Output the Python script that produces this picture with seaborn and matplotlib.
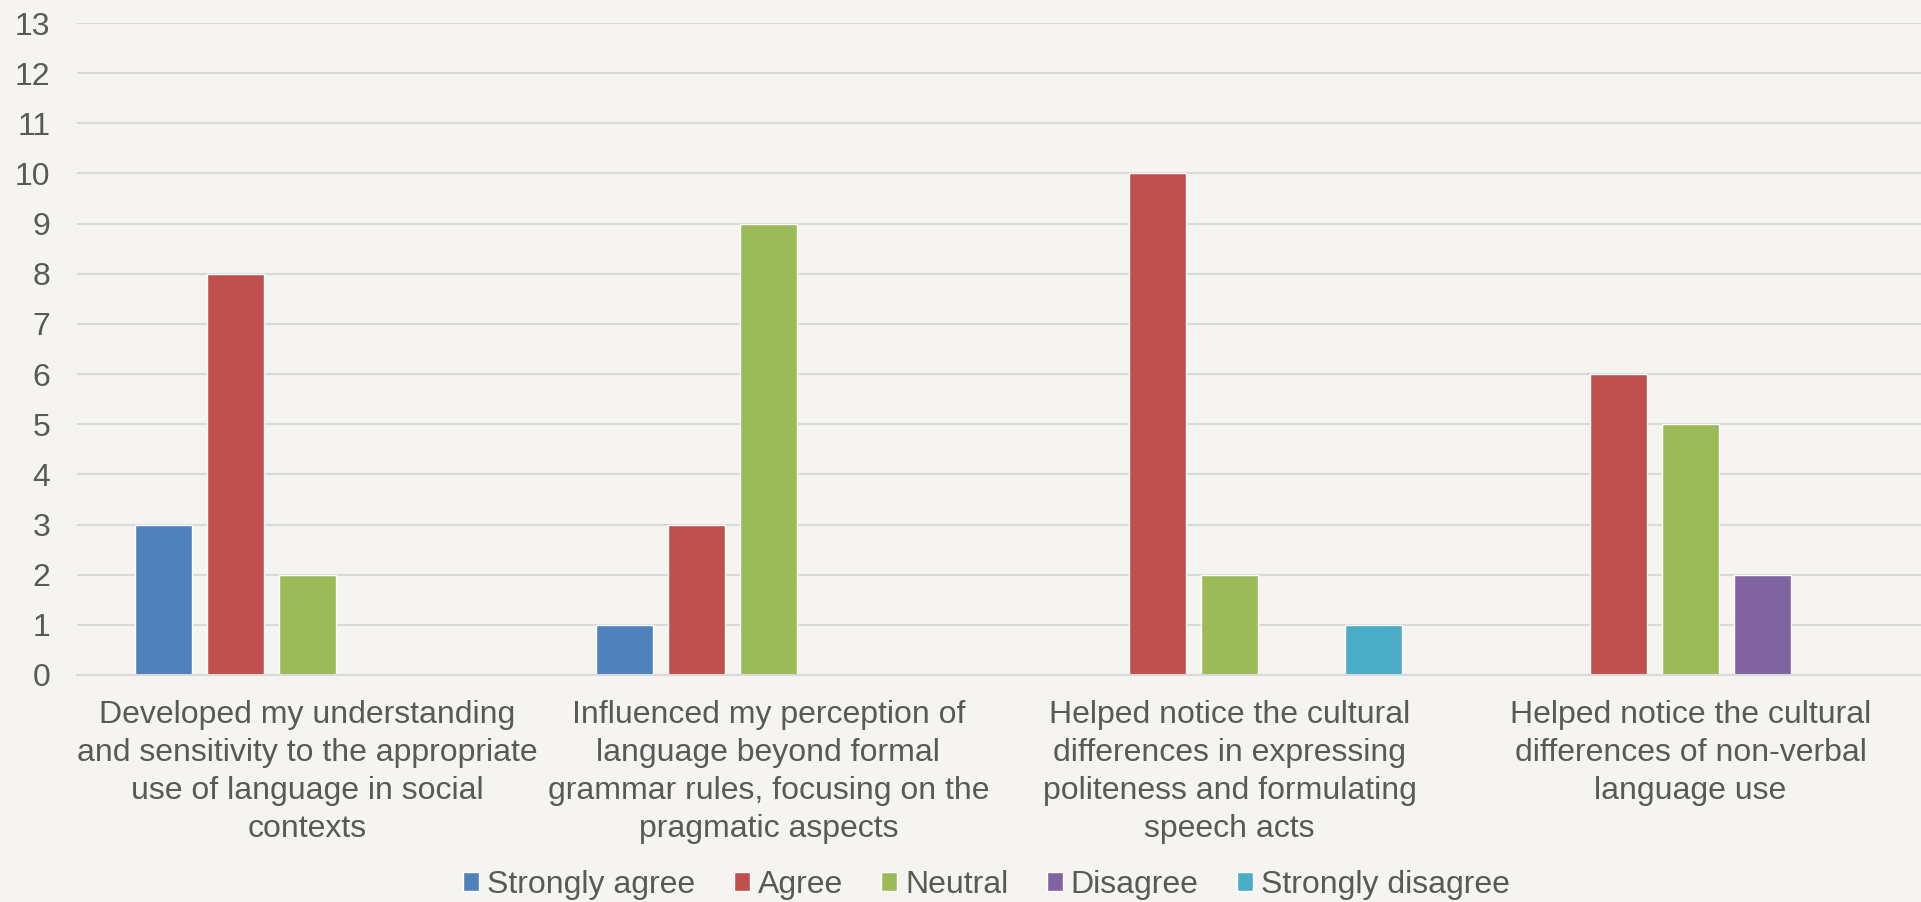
import pandas as pd
import numpy as np
import matplotlib.pyplot as plt
import seaborn as sns

# Survey categories (x axis) and responses
categories = [
    "Developed my understanding\nand sensitivity to the appropriate\nuse of language in social\ncontexts",
    "Influenced my perception of\nlanguage beyond formal\ngrammar rules, focusing on the\npragmatic aspects",
    "Helped notice the cultural\ndifferences in expressing\npoliteness and formulating\nspeech acts",
    "Helped notice the cultural\ndifferences of non-verbal\nlanguage use",
]
responses = ["Strongly agree", "Agree", "Neutral", "Disagree", "Strongly disagree"]

strongly_agree = [3, 1, 0, 0]
agree = [8, 3, 10, 6]
neutral = [2, 9, 2, 5]
disagree = [0, 0, 0, 2]
strongly_disagree = [0, 0, 1, 0]

colors = ["#4f81bd", "#c0504d", "#9bbb59", "#8064a2", "#4bacc6"]
y_ticks = list(range(0, 14))

# long format table for seaborn
series = [strongly_agree, agree, neutral, disagree, strongly_disagree]
rows = []
for resp, vals in zip(responses, series):
    for cat, v in zip(categories, vals):
        rows.append({"category": cat, "response": resp, "count": v})
df = pd.DataFrame(rows)

sns.set_style("white")
plt.rcParams["font.family"] = ["Liberation Sans", "DejaVu Sans"]
text_color = "#595959"
bg = "#f6f4f1"
fs = 23

fig = plt.figure(figsize=(19.21, 9.02), dpi=100, facecolor=bg)
ax = fig.add_axes([0.040, 0.2517, 0.96, 0.7228])
ax.set_facecolor(bg)

sns.barplot(data=df, x="category", y="count", hue="response",
            order=categories, hue_order=responses, palette=colors,
            width=0.78, gap=0.2, saturation=1, ax=ax, legend=True)

ax.set_ylim(0, 13)
ax.set_xlim(-0.5, 3.5)
ax.set_yticks(y_ticks)
ax.yaxis.grid(True, color="#d9d9d9", linewidth=1.5)
ax.set_axisbelow(True)
for side in ["left", "right", "top"]:
    ax.spines[side].set_visible(False)
ax.spines["bottom"].set_color("#d9d9d9")
ax.spines["bottom"].set_linewidth(1.5)
ax.tick_params(axis="both", length=0, labelsize=fs, colors=text_color)
ax.tick_params(axis="y", pad=19)
ax.tick_params(axis="x", pad=18)
plt.setp(ax.get_xticklabels(), linespacing=1.35)
ax.set_xlabel("")
ax.set_ylabel("")

ax.get_legend().remove()
handles, labels = ax.get_legend_handles_labels()
fig.legend(handles, labels, loc="center", bbox_to_anchor=(0.5135, 0.019), ncol=5,
           frameon=False, fontsize=fs, handlelength=0.5, handleheight=0.5,
           handletextpad=0.25, columnspacing=1.2, labelcolor=text_color)

fig.savefig("out.png", dpi=100, facecolor=bg)
